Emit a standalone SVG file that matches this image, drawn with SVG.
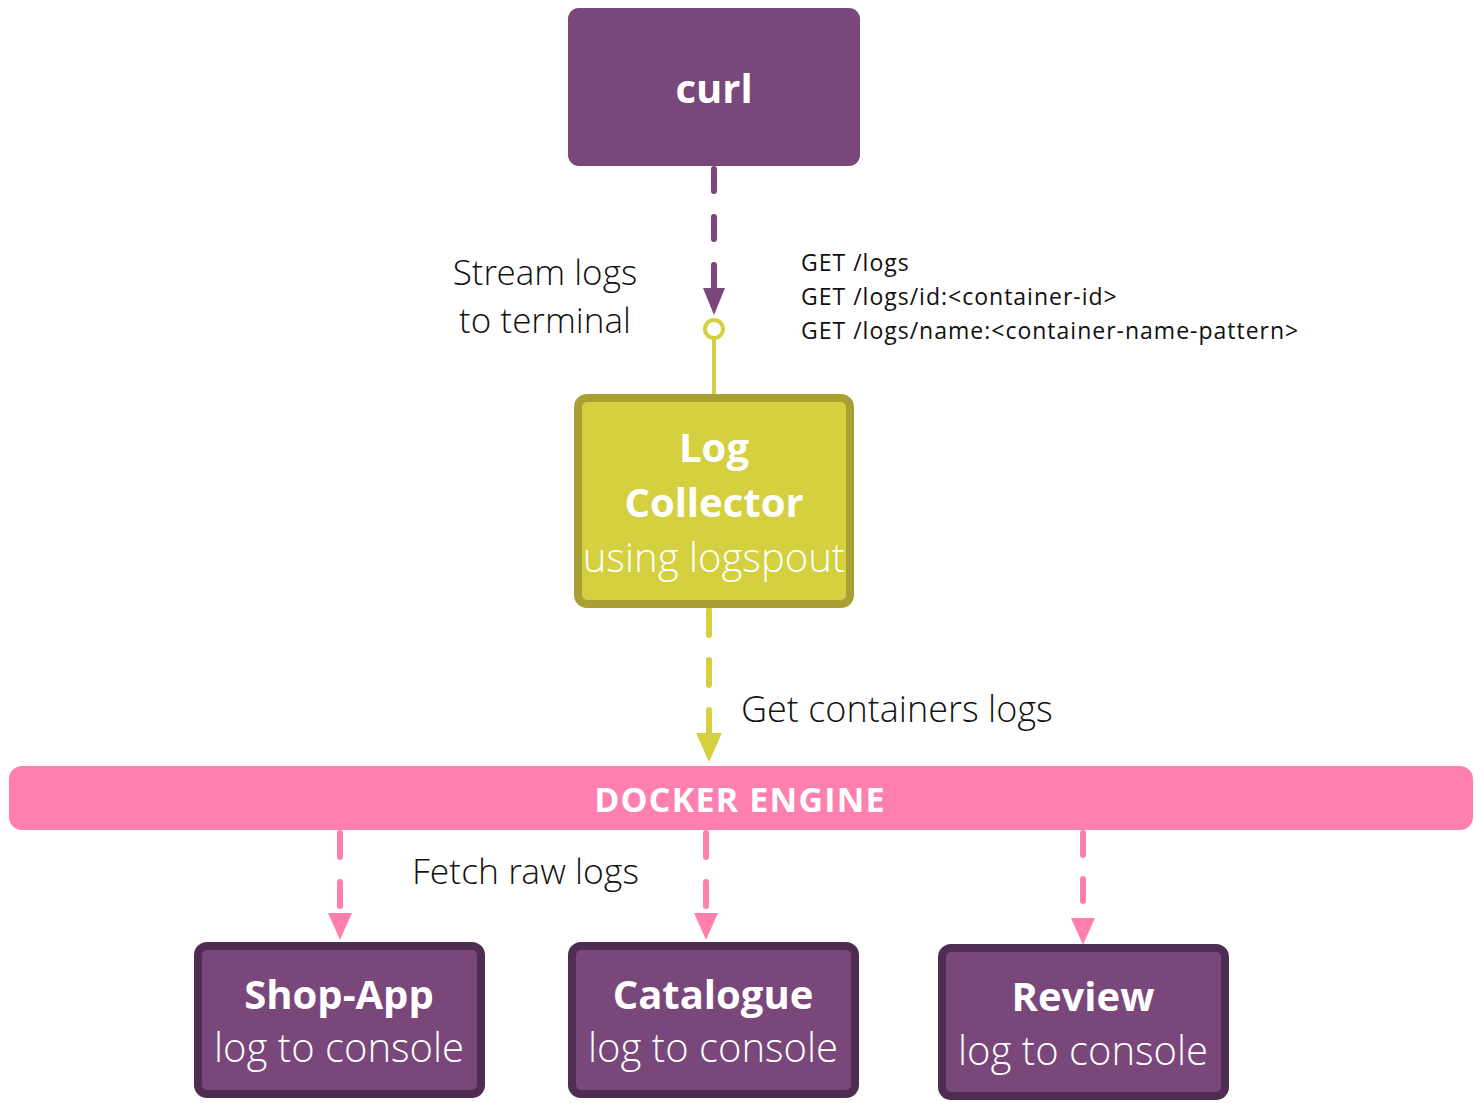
<svg xmlns="http://www.w3.org/2000/svg" width="1474" height="1103" viewBox="0 0 1474 1103">
<defs>
<style>
.t{font-family:"Open Sans","Liberation Sans",sans-serif;}
.b{font-weight:700;fill:#fff;text-anchor:middle;}
.l{font-family:"Open Sans Light","Open Sans","Liberation Sans",sans-serif;font-weight:300;}
.w{fill:#fff;text-anchor:middle;}
.k{fill:#111;}
.g{font-size:23px;letter-spacing:1px;}
.svc{fill:#7a477a;stroke:#4f2c52;stroke-width:8;}
.dash{fill:none;stroke-width:6;stroke-linecap:round;}
</style>
<marker id="aP" markerUnits="userSpaceOnUse" markerWidth="28" markerHeight="22" refX="0" refY="11" orient="auto"><path d="M0,0 L27,11 L0,22 z" fill="#7a477a"/></marker>
<marker id="aY" markerUnits="userSpaceOnUse" markerWidth="30" markerHeight="26" refX="0" refY="13" orient="auto"><path d="M0,0 L29,13 L0,26 z" fill="#d4d040"/></marker>
<marker id="aK" markerUnits="userSpaceOnUse" markerWidth="28" markerHeight="24" refX="0" refY="12" orient="auto"><path d="M0,0 L27,12 L0,24 z" fill="#ff80ae"/></marker>
</defs>
<rect width="1474" height="1103" fill="#fff"/>
<g id="connectors">
<path class="dash" d="M714,169 L714,288" stroke="#7a477a" stroke-dasharray="22 26" marker-end="url(#aP)"/>
<line x1="714" y1="338" x2="714" y2="396" stroke="#d4d040" stroke-width="4"/>
<circle cx="714" cy="329" r="9" fill="#fff" stroke="#d4d040" stroke-width="4"/>
<path class="dash" d="M709,610 L709,733" stroke="#d4d040" stroke-dasharray="25 25" marker-end="url(#aY)"/>
<path class="dash" d="M340,833 L340,913" stroke="#ff80ae" stroke-dasharray="24 25" marker-end="url(#aK)"/>
<path class="dash" d="M706,833 L706,913" stroke="#ff80ae" stroke-dasharray="24 25" marker-end="url(#aK)"/>
<path class="dash" d="M1083,833 L1083,918" stroke="#ff80ae" stroke-dasharray="22 24" marker-end="url(#aK)"/>
</g>
<g id="labels">
<text class="t l k" x="545" y="285" font-size="35" text-anchor="middle">Stream logs</text>
<text class="t l k" x="545" y="333" font-size="35" text-anchor="middle">to terminal</text>
<text class="t k g" x="801" y="271">GET /logs</text>
<text class="t k g" x="801" y="305">GET /logs/id:&lt;container-id&gt;</text>
<text class="t k g" x="801" y="339">GET /logs/name:&lt;container-name-pattern&gt;</text>
<text class="t l k" x="741" y="722" font-size="36">Get containers logs</text>
<text class="t l k" x="412" y="884" font-size="35.5">Fetch raw logs</text>
</g>
<g id="curl">
<rect x="568" y="8" width="292" height="158" rx="11" fill="#7a477a"/>
<text class="t b" x="714" y="103" font-size="40">curl</text>
</g>
<g id="log-collector">
<rect x="578" y="398" width="272" height="206" rx="9" fill="#d4d040" stroke="#a8a032" stroke-width="8"/>
<text class="t b" x="714" y="462" font-size="40">Log</text>
<text class="t b" x="714" y="517" font-size="40">Collector</text>
<text class="t l w" x="714" y="572" font-size="40">using logspout</text>
</g>
<g id="docker-engine">
<rect x="9" y="766" width="1464" height="64" rx="13" fill="#ff80ae"/>
<text class="t b" x="740" y="812" font-size="34" letter-spacing="1.2">DOCKER ENGINE</text>
</g>
<g id="shop-app">
<rect class="svc" x="198" y="946" width="283" height="148" rx="9"/>
<text class="t b" x="339" y="1009" font-size="40">Shop-App</text>
<text class="t l w" x="339" y="1062" font-size="40">log to console</text>
</g>
<g id="catalogue">
<rect class="svc" x="572" y="946" width="283" height="148" rx="9"/>
<text class="t b" x="713" y="1009" font-size="40">Catalogue</text>
<text class="t l w" x="713" y="1062" font-size="40">log to console</text>
</g>
<g id="review">
<rect class="svc" x="942" y="948" width="283" height="148" rx="9"/>
<text class="t b" x="1083" y="1011" font-size="40">Review</text>
<text class="t l w" x="1083" y="1065" font-size="40">log to console</text>
</g>
</svg>
